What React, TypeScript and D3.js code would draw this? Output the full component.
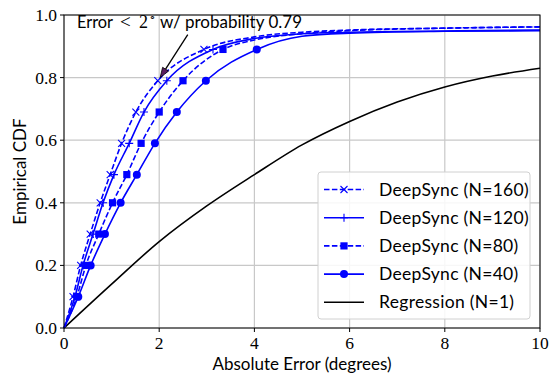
import React from "react";
import * as d3 from "d3";

// CDF levels where markers sit, and the x of each curve at those levels
const levels = [0.1, 0.2, 0.3, 0.4, 0.49, 0.59, 0.69, 0.79, 0.89];
const x160 = [0.19, 0.35, 0.55, 0.76, 0.97, 1.21, 1.51, 1.97, 2.94];
const x120 = [0.23, 0.4, 0.61, 0.82, 1.05, 1.37, 1.68, 2.16, 3.13];
const x80 = [0.27, 0.46, 0.73, 1.02, 1.32, 1.62, 2.0, 2.5, 3.34];
const x40 = [0.3, 0.56, 0.86, 1.19, 1.53, 1.91, 2.37, 2.98, 4.05];

// tails past the last marker
const tailX = [4, 5, 6, 8, 10];
const tail160 = [0.93, 0.945, 0.952, 0.958, 0.962];
const tail120 = [0.925, 0.94, 0.945, 0.949, 0.952];
const tail80 = [0.92, 0.94, 0.95, 0.958, 0.962];
const tail40X = [5, 6, 8, 10];
const tail40 = [0.932, 0.942, 0.948, 0.95];

const regX = [0, 1, 2, 3, 4, 5, 6, 7, 8, 9, 10];
const regY = [0, 0.14, 0.276, 0.39, 0.49, 0.585, 0.66, 0.722, 0.77, 0.805, 0.83];

const xTicks = [0, 2, 4, 6, 8, 10];
const yTicks = [0, 0.2, 0.4, 0.6, 0.8, 1.0];

const width = 549;
const height = 375;
const m = { left: 64, right: 9, top: 15, bottom: 47 };

const SANS = "Lato, 'Noto Sans', sans-serif";
const SERIF = "'Liberation Serif', serif";
const BLUE = "#0000ff";

type Series = {
  label: string;
  xs: number[];
  tx: number[];
  ty: number[];
  dashed: boolean;
  marker: "x" | "plus" | "square" | "circle";
};

const series: Series[] = [
  { label: "DeepSync (N=160)", xs: x160, tx: tailX, ty: tail160, dashed: true, marker: "x" },
  { label: "DeepSync (N=120)", xs: x120, tx: tailX, ty: tail120, dashed: false, marker: "plus" },
  { label: "DeepSync (N=80)", xs: x80, tx: tailX, ty: tail80, dashed: true, marker: "square" },
  { label: "DeepSync (N=40)", xs: x40, tx: tail40X, ty: tail40, dashed: false, marker: "circle" },
];

function Marker({ kind, cx, cy }: { kind: string; cx: number; cy: number }) {
  if (kind === "x") {
    const s = 3.5;
    return (
      <path
        d={`M${cx - s},${cy - s}L${cx + s},${cy + s}M${cx - s},${cy + s}L${cx + s},${cy - s}`}
        stroke={BLUE}
        strokeWidth={1.1}
      />
    );
  }
  if (kind === "plus") {
    const s = 4;
    return (
      <path
        d={`M${cx - s},${cy}L${cx + s},${cy}M${cx},${cy - s}L${cx},${cy + s}`}
        stroke={BLUE}
        strokeWidth={1.1}
      />
    );
  }
  if (kind === "square") {
    return <rect x={cx - 3.6} y={cy - 3.6} width={7.2} height={7.2} fill={BLUE} />;
  }
  return <circle cx={cx} cy={cy} r={4} fill={BLUE} />;
}

export default function App() {
  const x = d3.scaleLinear().domain([0, 10]).range([m.left, width - m.right]);
  const y = d3.scaleLinear().domain([0, 1]).range([height - m.bottom, m.top]);

  const line = d3
    .line<[number, number]>()
    .x((d) => x(d[0]))
    .y((d) => y(d[1]))
    .curve(d3.curveMonotoneX);

  const x0 = x(0);
  const x1 = x(10);
  const y0 = y(0);
  const y1 = y(1);

  // legend placement
  const lgX = 318;
  const lgY = 172;
  const lgW = 212;
  const lgH = 147;
  const rowH = 28.2;

  const legendItems = [
    ...series.map((s) => ({ label: s.label, color: BLUE, dashed: s.dashed, marker: s.marker as string })),
    { label: "Regression (N=1)", color: "#000", dashed: false, marker: "none" },
  ];

  // annotation geometry (data coords)
  const tip: [number, number] = [2.02, 0.8];
  const tail: [number, number] = [2.6, 0.937];
  const tipPx = [x(tip[0]), y(tip[1])];
  const tailPx = [x(tail[0]), y(tail[1])];
  const ang = Math.atan2(tipPx[1] - tailPx[1], tipPx[0] - tailPx[0]);
  const hl = 10;
  const hw = 3.5;
  const bx = tipPx[0] - hl * Math.cos(ang);
  const by = tipPx[1] - hl * Math.sin(ang);
  const head = `M${tipPx[0]},${tipPx[1]}L${bx + hw * Math.sin(ang)},${by - hw * Math.cos(ang)}L${bx - hw * Math.sin(ang)},${by + hw * Math.cos(ang)}Z`;
  const annY = y(0.958);

  return (
    <svg width={width} height={height} style={{ display: "block", position: "absolute", left: 0, top: 0 }}>
      <rect width={width} height={height} fill="#fff" />
      {/* grid */}
      <g stroke="#c8c8c8" strokeWidth={1.2}>
        {xTicks.map((t) => (
          <line key={"gx" + t} x1={x(t)} x2={x(t)} y1={y0} y2={y1} />
        ))}
        {yTicks.map((t) => (
          <line key={"gy" + t} x1={x0} x2={x1} y1={y(t)} y2={y(t)} />
        ))}
      </g>

      {/* regression */}
      <path
        d={line(regX.map((v, i) => [v, regY[i]] as [number, number])) || ""}
        fill="none"
        stroke="#000"
        strokeWidth={1.6}
      />

      {/* deepsync curves */}
      {series
        .slice()
        .reverse()
        .map((s) => {
          const pts: [number, number][] = [
            [0, 0],
            ...s.xs.map((v, i) => [v, levels[i]] as [number, number]),
            ...s.tx.map((v, i) => [v, s.ty[i]] as [number, number]),
          ];
          return (
            <g key={s.label}>
              <path
                d={line(pts) || ""}
                fill="none"
                stroke={BLUE}
                strokeWidth={1.6}
                strokeDasharray={s.dashed ? "5.5,2.4" : undefined}
              />
              {s.xs.map((v, i) => (
                <Marker key={i} kind={s.marker} cx={x(v)} cy={y(levels[i])} />
              ))}
            </g>
          );
        })}

      {/* spines */}
      <rect x={x0} y={y1} width={x1 - x0} height={y0 - y1} fill="none" stroke="#000" strokeWidth={1} />

      {/* ticks */}
      {xTicks.map((t) => (
        <g key={"tx" + t}>
          <line x1={x(t)} x2={x(t)} y1={y0} y2={y0 + 4} stroke="#000" />
          <text x={x(t)} y={348.5} textAnchor="middle" fontFamily={SERIF} fontSize={17.5}>
            {t}
          </text>
        </g>
      ))}
      {yTicks.map((t) => (
        <g key={"ty" + t}>
          <line x1={x0 - 4} x2={x0} y1={y(t)} y2={y(t)} stroke="#000" />
          <text x={x0 - 7} y={y(t) + 6} textAnchor="end" fontFamily={SERIF} fontSize={17.5}>
            {t.toFixed(1)}
          </text>
        </g>
      ))}

      {/* axis labels */}
      <text x={(x0 + x1) / 2} y={370} textAnchor="middle" fontFamily={SANS} fontSize={17}>
        Absolute Error (degrees)
      </text>
      <text
        transform={`translate(26,${(y0 + y1) / 2}) rotate(-90)`}
        textAnchor="middle"
        fontFamily={SANS}
        fontSize={17}
      >
        Empirical CDF
      </text>

      {/* annotation */}
      <line x1={tailPx[0]} y1={tailPx[1]} x2={bx} y2={by} stroke="#000" strokeWidth={1.3} />
      <path d={head} fill="#5b1e5f" stroke="#000" strokeWidth={0.8} />
      <g fontSize={18}>
        <text x={77} y={annY} fontFamily={SANS} textLength={36} lengthAdjust="spacingAndGlyphs">
          Error
        </text>
        <text x={120} y={annY} fontFamily={SERIF} fontSize={19}>
          {"<"}
        </text>
        <text x={139} y={annY} fontFamily={SERIF}>
          2
        </text>
        <text x={148.5} y={annY - 7} fontFamily={SERIF} fontSize={11}>
          {"\u2218"}
        </text>
        <text x={160} y={annY} fontFamily={SANS} textLength={142} lengthAdjust="spacingAndGlyphs">
          w/ probability 0.79
        </text>
      </g>

      {/* legend */}
      <rect
        x={lgX}
        y={lgY}
        width={lgW}
        height={lgH}
        rx={3}
        fill="#fff"
        fillOpacity={0.85}
        stroke="#d0d0d0"
      />
      {legendItems.map((it, i) => {
        const cy = lgY + 17.5 + i * rowH;
        return (
          <g key={it.label}>
            <line
              x1={lgX + 6}
              x2={lgX + 46}
              y1={cy}
              y2={cy}
              stroke={it.color}
              strokeWidth={1.6}
              strokeDasharray={it.dashed ? "5.5,2.4" : undefined}
            />
            {it.marker !== "none" && <Marker kind={it.marker} cx={lgX + 26} cy={cy} />}
            <text x={lgX + 61} y={cy + 6} fontFamily={SANS} fontSize={17.5} letterSpacing={0.3}>
              {it.label}
            </text>
          </g>
        );
      })}
    </svg>
  );
}
